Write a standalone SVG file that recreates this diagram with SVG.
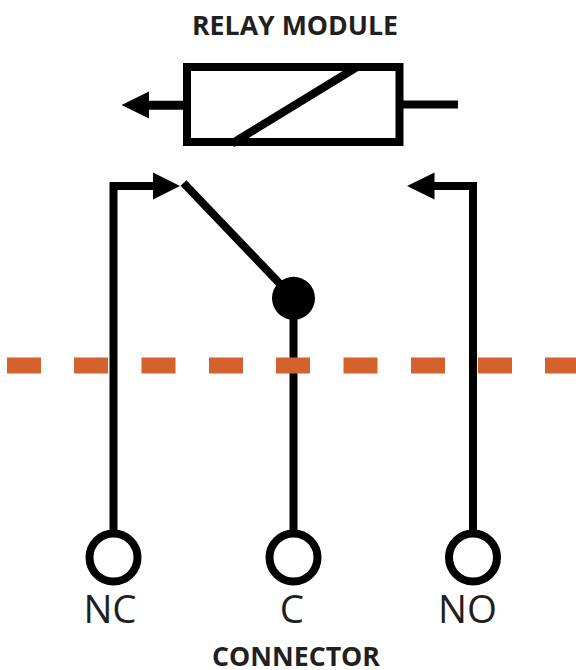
<svg xmlns="http://www.w3.org/2000/svg" width="576" height="670" viewBox="0 0 576 670">
<style>
.l{fill:none;stroke:#000;stroke-width:8}
.a{fill:#000;stroke:none}
.t{fill:#fff;stroke:#000;stroke-width:8}
.h{font-family:"Open Sans",sans-serif;font-weight:700;font-size:26.700px;fill:#231f20;text-anchor:middle}
.n{font-family:"Open Sans",sans-serif;font-size:38.500px;fill:#231f20;text-anchor:middle}
.d{fill:#d4622c}
</style>
<rect width="576" height="670" fill="#fff"/>
<g id="connectors">
<path class="l" d="M113.500 532V186H154"/>
<path class="l" d="M293.500 298V532"/>
<path class="l" d="M473 532V186H434"/>
<path class="l" d="M183.500 183L293.500 298"/>
<path class="l" d="M149 105.300H184" style="stroke-width:9"/>
<path class="l" d="M403 104.500H458"/>
<polygon class="a" points="180,186 153,172.500 153,199.500"/>
<polygon class="a" points="407,186 434.500,172.500 434.500,199.500"/>
<polygon class="a" points="121.500,105 149,91.500 149,118.500"/>
</g>
<g id="relay">
<rect class="l" x="187" y="67" width="212.500" height="75"/>
<path class="l" d="M232 143.500L357 67"/>
<text class="h" x="295" y="35">RELAY MODULE</text>
</g>
<g id="common-dot"><circle cx="293.500" cy="298.300" r="21.500" fill="#000"/></g>
<g id="divider">
<rect class="d" x="7" y="357.500" width="34" height="16"/>
<rect class="d" x="74" y="357.500" width="34" height="16"/>
<rect class="d" x="141.500" y="357.500" width="34" height="16"/>
<rect class="d" x="209" y="357.500" width="34" height="16"/>
<rect class="d" x="276" y="357.500" width="34" height="16"/>
<rect class="d" x="343.500" y="357.500" width="34" height="16"/>
<rect class="d" x="411" y="357.500" width="34" height="16"/>
<rect class="d" x="478" y="357.500" width="34" height="16"/>
<rect class="d" x="545" y="357.500" width="34" height="16"/>
</g>
<g id="terminal-nc"><circle class="t" cx="113.500" cy="557.500" r="24"/><text class="n" x="110" y="623">NC</text></g>
<g id="terminal-c"><circle class="t" cx="293.500" cy="557.500" r="24"/><text class="n" x="292" y="623">C</text></g>
<g id="terminal-no"><circle class="t" cx="473" cy="557.500" r="24"/><text class="n" x="467.500" y="623">NO</text></g>
<text class="h" x="296" y="666">CONNECTOR</text>
</svg>
